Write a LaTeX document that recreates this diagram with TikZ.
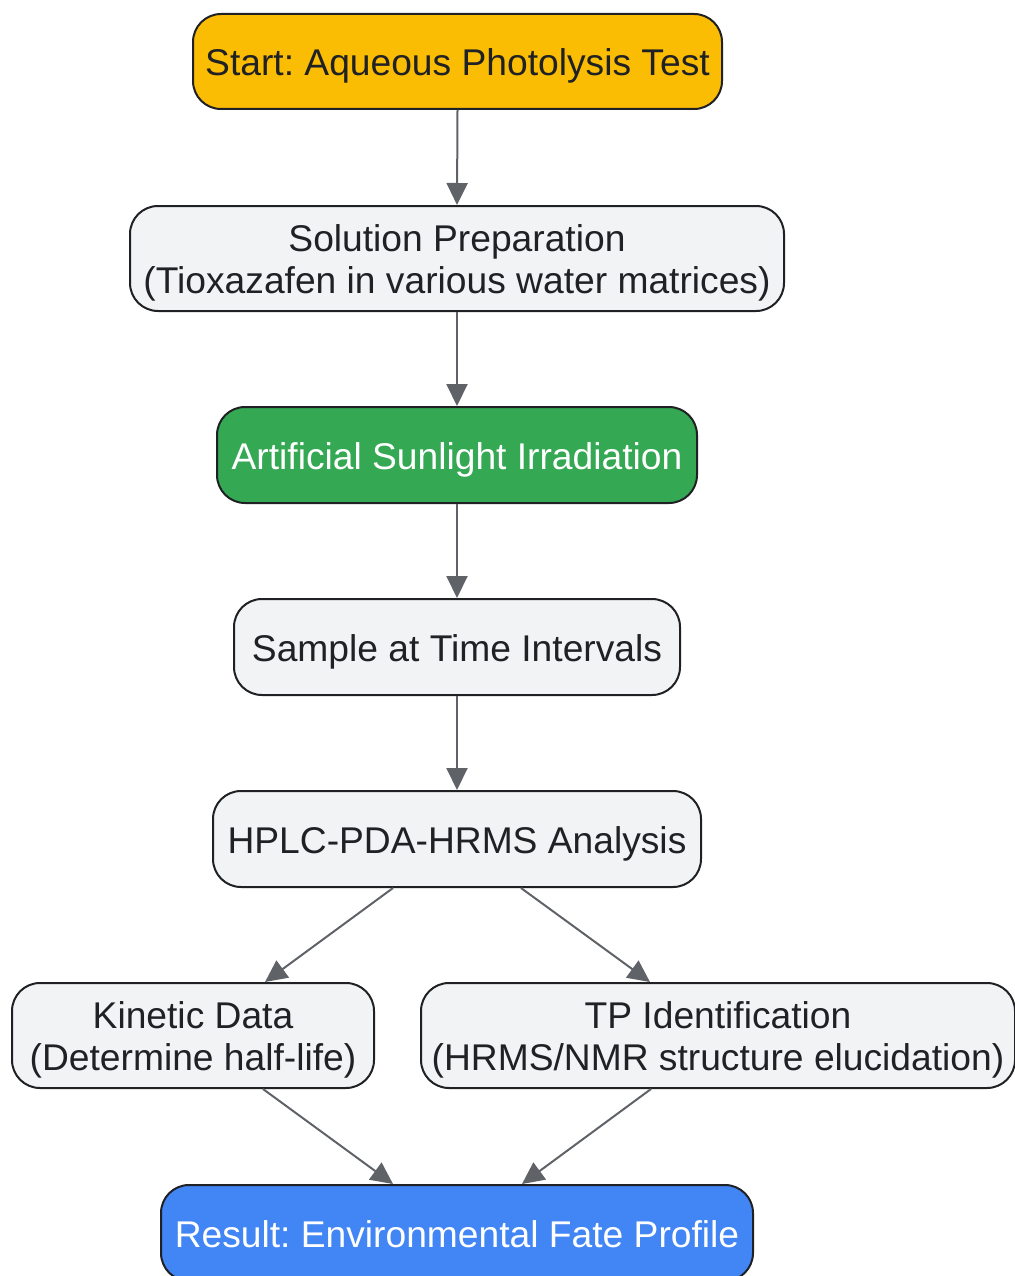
\documentclass[tikz,border=0pt]{standalone}
\usepackage{fontspec}
\setmainfont{Liberation Sans}
\usetikzlibrary{arrows.meta}
\definecolor{txt}{HTML}{202124}
\definecolor{edge}{HTML}{5F6368}
\definecolor{boxgray}{HTML}{F1F3F4}
\definecolor{startc}{HTML}{FBBC04}
\definecolor{greenc}{HTML}{34A853}
\definecolor{bluec}{HTML}{4285F4}
\newcommand\bxt[1]{\raisebox{-6pt}[\height][\depth]{\begin{tabular}{@{}c@{}}#1\end{tabular}}}
\tikzset{
  box/.style={draw=txt, line width=2pt, rounded corners=28pt, align=center,
    inner sep=0pt, text=txt, fill=boxgray,
    font=\fontsize{37.2}{42}\selectfont\frenchspacing},
  conn/.style={draw=edge, line width=2pt, -{Triangle[length=22pt,width=21pt]}}
}
\begin{document}
\begin{tikzpicture}[x=1pt,y=-1pt]
\useasboundingbox (0,0) rectangle (1014,1276);
\node[box, fill=startc, minimum width=529pt, minimum height=95pt] (start) at (457.5,61.5) {\bxt{Start: Aqueous Photolysis Test}};
\node[box, minimum width=654pt, minimum height=105pt] (prep) at (457,258.5) {\bxt{Solution Preparation\\(Tioxazafen in various water matrices)}};
\node[box, fill=greenc, text=white, minimum width=480pt, minimum height=96pt] (sun) at (457,455) {\bxt{Artificial Sunlight Irradiation}};
\node[box, minimum width=446pt, minimum height=96pt] (sample) at (457,647) {\bxt{Sample at Time Intervals}};
\node[box, minimum width=488pt, minimum height=96pt] (hplc) at (457,839) {\bxt{HPLC-PDA-HRMS Analysis}};
\node[box, minimum width=362pt, minimum height=105pt] (kin) at (193,1035.5) {\bxt{Kinetic Data\\(Determine half-life)}};
\node[box, minimum width=594pt, minimum height=105pt] (tp) at (718,1035.5) {\bxt{TP Identification\\(HRMS/NMR structure elucidation)}};
\node[box, fill=bluec, text=white, minimum width=592pt, minimum height=96pt] (res) at (457,1233) {\bxt{Result: Environmental Fate Profile}};
\draw[conn] (start.south) -- (prep.north);
\draw[conn] (prep.south) -- (sun.north);
\draw[conn] (sun.south) -- (sample.north);
\draw[conn] (sample.south) -- (hplc.north);
\draw[conn] ([xshift=-64pt]hplc.south) -- ([xshift=72pt]kin.north);
\draw[conn] ([xshift=64pt]hplc.south) -- ([xshift=-68pt]tp.north);
\draw[conn] ([xshift=70pt]kin.south) -- ([xshift=-64pt]res.north);
\draw[conn] ([xshift=-67pt]tp.south) -- ([xshift=65pt]res.north);
\end{tikzpicture}
\end{document}
